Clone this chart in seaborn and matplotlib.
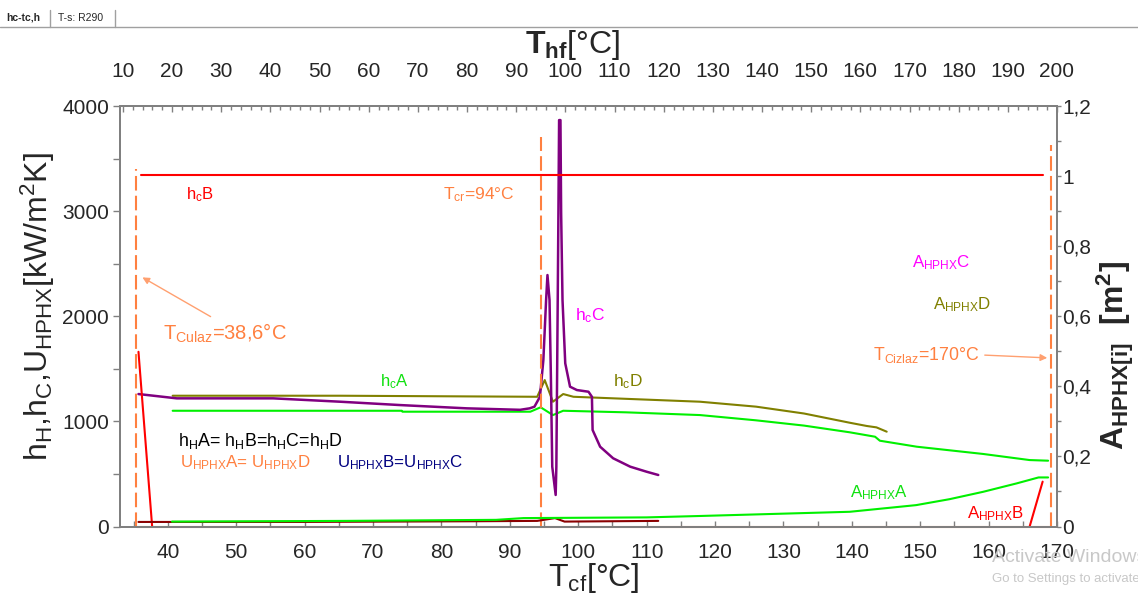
import matplotlib
matplotlib.use('Agg')
import matplotlib.pyplot as plt
from matplotlib.lines import Line2D
from matplotlib.ticker import FixedLocator, MultipleLocator
import seaborn as sns

# ---------------- data ----------------
cf_ticks = [40, 50, 60, 70, 80, 90, 100, 110, 120, 130, 140, 150, 160, 170]
hf_ticks = [10, 20, 30, 40, 50, 60, 70, 80, 90, 100, 110, 120, 130, 140, 150,
            160, 170, 180, 190, 200]
left_ticks = [0, 1000, 2000, 3000, 4000]
right_ticks = [0, 0.2, 0.4, 0.6, 0.8, 1.0, 1.2]
right_labels = ['0', '0,2', '0,4', '0,6', '0,8', '1', '1,2']

# h_c B (red, constant)
hcB_T = [36.0, 168.0]
hcB = [3340, 3340]

# red steep drop at the left
redDrop_T = [35.7, 37.7]
redDrop = [1662, 0]

# h_c C (purple)
hcC_T = [35.7, 41.3, 55.4, 65.2, 74.0, 83.7, 91.5, 92.9, 93.6, 94.4, 94.9,
         95.3, 95.5, 95.8, 96.0, 96.2, 96.7, 96.8, 97.0, 97.1, 97.2, 97.4,
         97.5, 97.7, 98.1, 98.8, 99.8, 101.5, 102.0, 102.1, 103.2, 105.1,
         107.6, 110.0, 111.7]
hcC = [1260, 1219, 1219, 1187, 1155, 1124, 1110, 1124, 1140, 1234, 1583,
       2154, 2392, 2154, 1425, 569, 300, 569, 2154, 2978, 3866, 3866,
       2978, 2154, 1552, 1330, 1298, 1282, 1234, 918, 759, 649,
       569, 521, 490]

# h_c D (olive)
hcD_T = [40.7, 65.2, 94.0, 95.1, 96.3, 97.8, 99.3, 117.8, 126.0, 133.0,
         139.7, 142.2, 143.6, 145.1]
hcD = [1244, 1244, 1234, 1393, 1187, 1260, 1234, 1187, 1140, 1075,
       987, 956, 943, 902]

# h_c A (green)
hcA_T = [40.7, 74.2, 74.3, 93.0, 94.5, 96.3, 97.8, 107.0, 117.8, 126.0,
         133.0, 139.7, 143.4, 144.1, 149.5, 159.2, 166.0, 168.7]
hcA = [1101, 1101, 1092, 1092, 1134, 1060, 1101, 1086, 1060, 1010,
       960, 896, 854, 816, 759, 690, 632, 626]

# U_HPHX (orange, on zero)
U_T = [35.5, 169.0]
U = [0, 0]

# A_HPHX A (green, right axis)
AA_T = [40.6, 66.0, 88.0, 92.0, 110.0, 117.8, 139.7, 149.4, 154.3, 159.2,
        164.1, 167.3, 168.7]
AA = [0.014, 0.016, 0.019, 0.024, 0.026, 0.030, 0.042, 0.061, 0.078, 0.099,
      0.123, 0.140, 0.140]

# A_HPHX B (red, right axis)
AB_T = [166.0, 167.9]
AB = [0.0, 0.128]

# A_HPHX C (dark red, right axis, near zero)
AC_T = [35.7, 60.0, 85.0, 94.0, 96.6, 98.0, 111.7]
AC = [0.013, 0.013, 0.015, 0.016, 0.024, 0.014, 0.016]

# vertical dashed markers
vline_T = [35.3, 94.5, 169.1]
vline_top = [3400, 3707, 3628]

# ---------------- styling ----------------
sns.set_style('white')
plt.rcParams['font.family'] = ['Liberation Sans', 'DejaVu Sans']
plt.rcParams['mathtext.fontset'] = 'custom'
plt.rcParams['mathtext.rm'] = 'Liberation Sans'
plt.rcParams['mathtext.it'] = 'Liberation Sans:italic'
plt.rcParams['mathtext.bf'] = 'Liberation Sans:bold'

W, H = 1138, 599
fig = plt.figure(figsize=(W / 100, H / 100), dpi=100)
fig.patch.set_facecolor('white')

ax = fig.add_axes([120 / W, 1 - 526.5 / H, 937 / W, 420.5 / H])
ax2 = ax.twinx()
ax3 = ax.twiny()

RED = '#FF0000'
GREEN = '#00F000'
OLIVE = '#808000'
PURPLE = '#800080'
ORANGE = '#FF8040'
DARKRED = '#8B0000'
GRAY = '#808080'

kw = dict(estimator=None, sort=False, legend=False)
sns.lineplot(x=hcA_T, y=hcA, ax=ax, color=GREEN, linewidth=1.5, **kw)
sns.lineplot(x=hcD_T, y=hcD, ax=ax, color=OLIVE, linewidth=1.5, **kw)
sns.lineplot(x=hcC_T, y=hcC, ax=ax, color=PURPLE, linewidth=1.8, **kw)
sns.lineplot(x=hcB_T, y=hcB, ax=ax, color=RED, linewidth=1.5, **kw)
sns.lineplot(x=redDrop_T, y=redDrop, ax=ax, color=RED, linewidth=1.5, **kw)

ax.vlines(vline_T, 0, vline_top, colors=ORANGE, linestyles=(0, (7, 2.5)),
          linewidth=1.5, zorder=3)

sns.lineplot(x=AC_T, y=AC, ax=ax2, color=DARKRED, linewidth=1.5, **kw)
sns.lineplot(x=AA_T, y=AA, ax=ax2, color=GREEN, linewidth=1.5, **kw)
sns.lineplot(x=AB_T, y=AB, ax=ax2, color=RED, linewidth=1.5, **kw)
uline = sns.lineplot(x=U_T, y=U, ax=ax, color='#F06020', linewidth=1.5, **kw)
for ln in ax.lines[-1:]:
    ln.set_clip_on(False)
    ln.set_zorder(5)

ax.set_xlim(33, 170)
ax.set_ylim(0, 4000)
ax2.set_ylim(0, 1.2)
ax3.set_xlim(9.4, 200)
for a in (ax, ax2, ax3):
    a.set_xlabel('')
    a.set_ylabel('')
    a.grid(False)
    for sp in a.spines.values():
        sp.set_color(GRAY)
        sp.set_linewidth(1.3)

# bottom axis
ax.xaxis.set_major_locator(FixedLocator(cf_ticks))
ax.xaxis.set_minor_locator(MultipleLocator(5))
ax.tick_params(axis='x', which='both', direction='in', bottom=True, top=False,
               length=4, width=1, color=GRAY, pad=12, labelsize=15)
# left axis
ax.yaxis.set_major_locator(FixedLocator(left_ticks))
ax.yaxis.set_minor_locator(MultipleLocator(500))
ax.tick_params(axis='y', which='both', direction='out', left=True, right=False,
               length=5, width=1, color=GRAY, pad=3, labelsize=15)
# right axis
ax2.yaxis.set_major_locator(FixedLocator(right_ticks))
ax2.set_yticklabels(right_labels)
ax2.yaxis.set_minor_locator(MultipleLocator(0.1))
ax2.tick_params(axis='y', which='both', direction='out', right=True, left=False,
                length=3, width=1, color=GRAY, pad=1, labelsize=15)
# top axis
ax3.xaxis.set_major_locator(FixedLocator(hf_ticks))
ax3.xaxis.set_minor_locator(MultipleLocator(2))
ax3.tick_params(axis='x', which='major', direction='in', top=True, bottom=False,
                length=4, width=1, color=GRAY, pad=18, labelsize=15)
ax3.tick_params(axis='x', which='minor', direction='in', top=True, bottom=False,
                length=3, width=1, color=GRAY)


def ptext(px, py, s, **k):
    k.setdefault('va', 'center')
    k.setdefault('ha', 'left')
    fig.text(px / W, 1 - py / H, s, **k)


# axis titles
ptext(38, 307, r'h$_\mathregular{H}$,h$_\mathregular{C}$,U$_\mathregular{HPHX}$[kW/m$^\mathregular{2}$K]',
      rotation=90, ha='center', size=23)
ptext(1115, 355, r'$\mathbf{A_{HPHX[i]}}$  $\mathbf{[m^2]}$',
      rotation=90, ha='center', size=23, weight='bold')
ptext(573, 45, r'$\mathbf{T_{hf}}$[°C]', ha='center', size=23)
ptext(594, 578, r'T$_\mathregular{cf}$[°C]', ha='center', size=23)

# in-plot labels
ptext(186, 195, r'h$_\mathregular{c}$B', color=RED, size=12)
ptext(443, 195, r'T$_\mathregular{cr}$=94°C', color=ORANGE, size=12.5)
ptext(163, 333, r'T$_\mathregular{Culaz}$=38,6°C', color=ORANGE, size=14.5)
ptext(380, 382, r'h$_\mathregular{c}$A', color='#10E010', size=12)
ptext(178, 441, r'h$_\mathregular{H}$A= h$_\mathregular{H}$B=h$_\mathregular{H}$C=h$_\mathregular{H}$D',
      color='black', size=12.8)
ptext(180, 463, r'U$_\mathregular{HPHX}$A= U$_\mathregular{HPHX}$D', color=ORANGE, size=12.2)
ptext(337, 463, r'U$_\mathregular{HPHX}$B=U$_\mathregular{HPHX}$C', color='#000080', size=12.2)
ptext(575, 316, r'h$_\mathregular{c}$C', color='#FF00FF', size=12.5)
ptext(613, 382, r'h$_\mathregular{c}$D', color=OLIVE, size=12.5)
ptext(912, 263, r'A$_\mathregular{HPHX}$C', color='#FF00FF', size=12.2)
ptext(933, 305, r'A$_\mathregular{HPHX}$D', color=OLIVE, size=12.2)
ptext(873, 355, r'T$_\mathregular{Cizlaz}$=170°C', color=ORANGE, size=12.8)
ptext(850, 493, r'A$_\mathregular{HPHX}$A', color='#10E010', size=12.2)
ptext(967, 514, r'A$_\mathregular{HPHX}$B', color=RED, size=12.2)

# arrows
fig.add_artist(matplotlib.patches.FancyArrowPatch(
    (213 / W, 1 - 318 / H), (140 / W, 1 - 276 / H), transform=fig.transFigure,
    arrowstyle='-|>', mutation_scale=10, color='#FFA070', linewidth=1))
fig.add_artist(matplotlib.patches.FancyArrowPatch(
    (982 / W, 1 - 355 / H), (1050 / W, 1 - 358 / H), transform=fig.transFigure,
    arrowstyle='-|>', mutation_scale=10, color='#FFA070', linewidth=1))

# tab strip
fig.add_artist(Line2D([0, 1], [1 - 27 / H] * 2, color='#a0a0a0', lw=1,
                      transform=fig.transFigure))
for xs in (50, 115):
    fig.add_artist(Line2D([xs / W] * 2, [1 - 10 / H, 1 - 27 / H], color='#a0a0a0',
                          lw=1, transform=fig.transFigure))
ptext(6, 18, 'hc-tc,h', size=7.5, weight='bold')
ptext(58, 18, 'T-s: R290', size=7.5)

# watermark
ptext(992, 558, 'Activate Windows', color='#c8c8c8', size=14)
ptext(992, 579, 'Go to Settings to activate Windows.', color='#c8c8c8', size=9.5)

fig.savefig('out.png', dpi=100)
